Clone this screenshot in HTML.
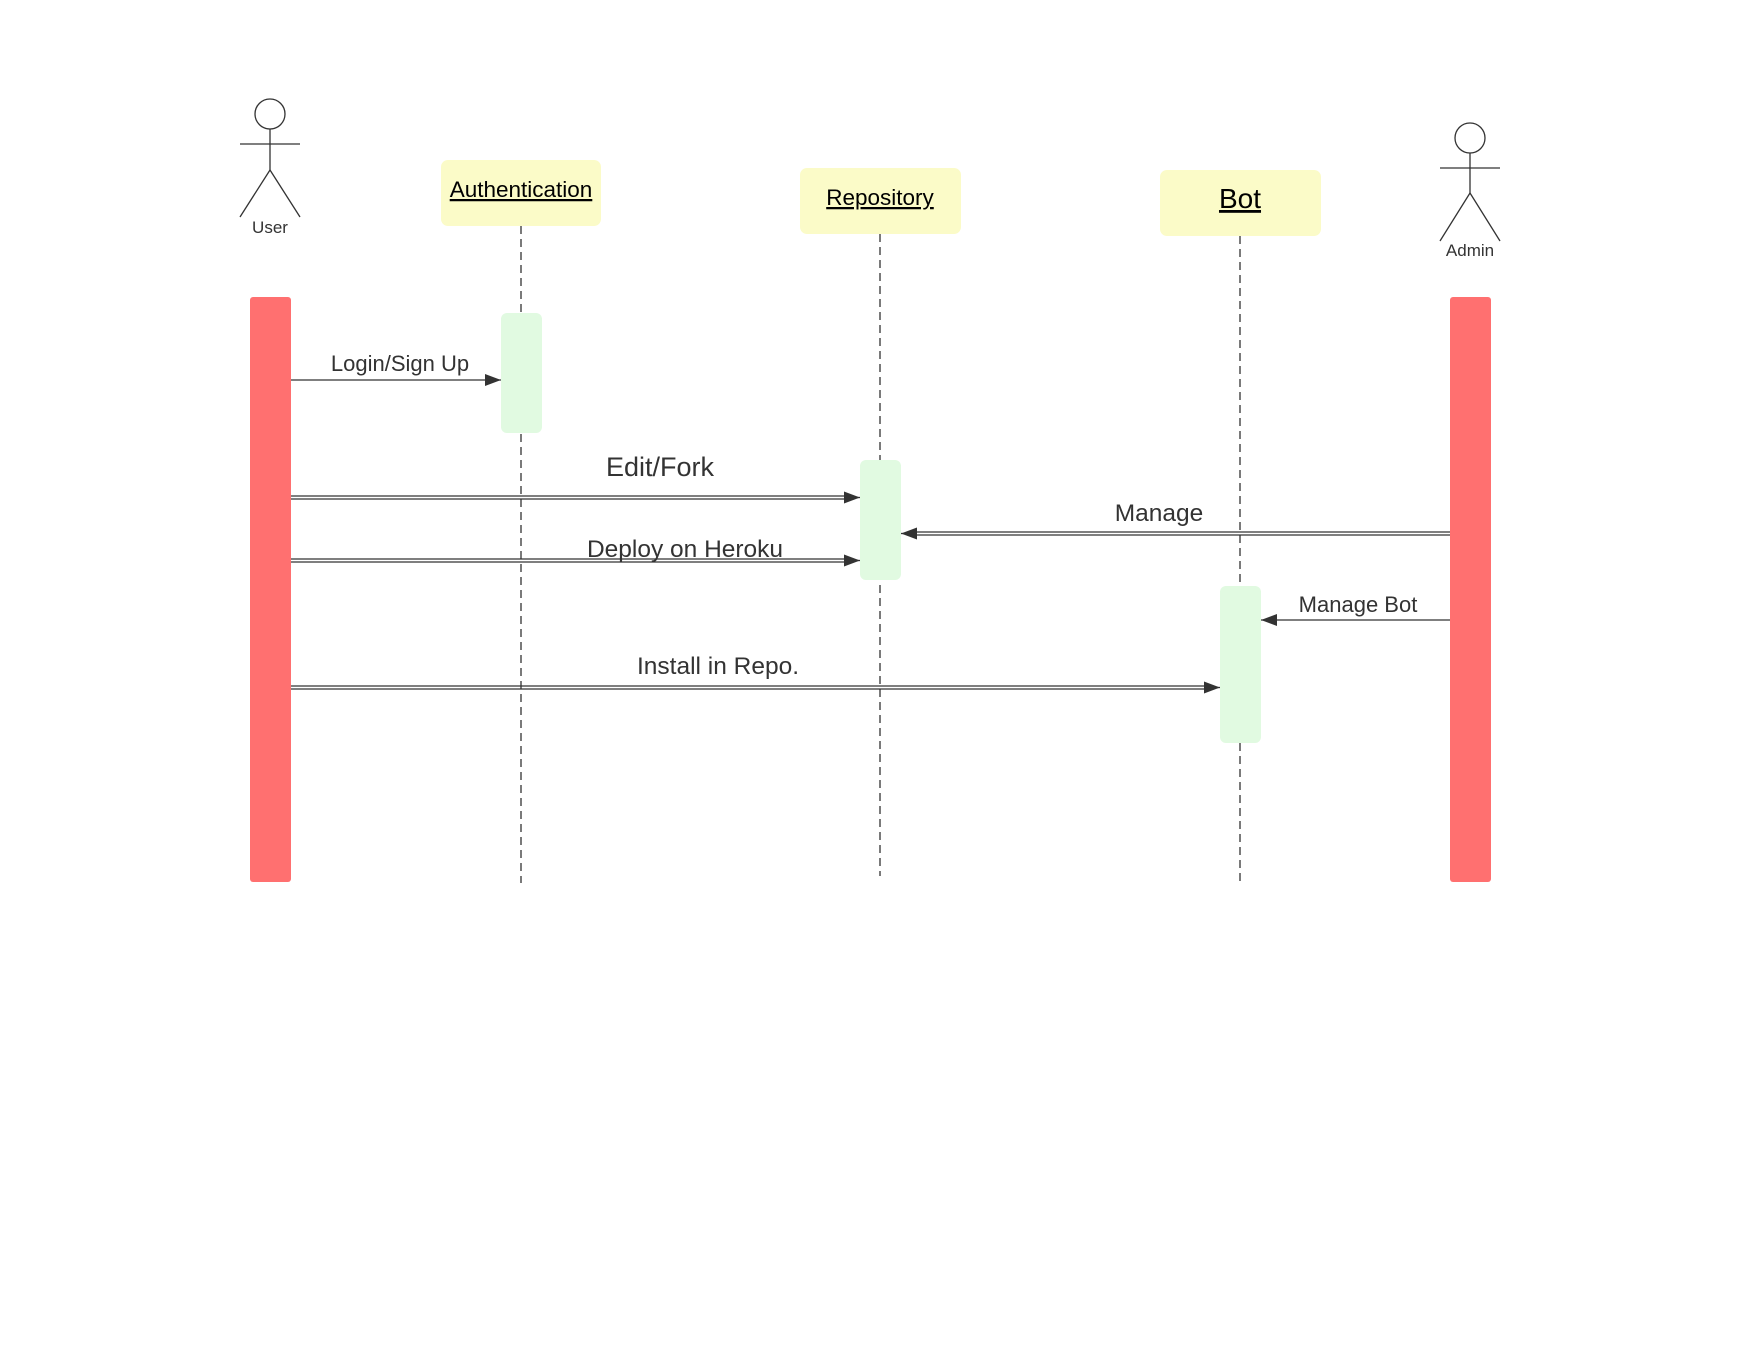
<!DOCTYPE html>
<html><head><meta charset="utf-8"><style>html,body{margin:0;padding:0;background:#fff}</style></head>
<body>
<svg width="1760" height="1360" viewBox="0 0 1760 1360" xmlns="http://www.w3.org/2000/svg" font-family="Liberation Sans, Arial, sans-serif">
<defs>
<marker id="ah" markerWidth="16" markerHeight="12" refX="16" refY="6" orient="auto" markerUnits="userSpaceOnUse">
<path d="M0,0 L16,6 L0,12 z" fill="#333"/>
</marker>
</defs>
<rect width="1760" height="1360" fill="#fff"/>
<g stroke="#333" stroke-width="1.3" fill="none">
<circle cx="270" cy="114" r="15"/>
<line x1="240" y1="144" x2="300" y2="144"/>
<line x1="270" y1="129" x2="270" y2="170"/>
<line x1="270" y1="170" x2="240" y2="217"/>
<line x1="270" y1="170" x2="300" y2="217"/>
<circle cx="1470" cy="138" r="15"/>
<line x1="1440" y1="168" x2="1500" y2="168"/>
<line x1="1470" y1="153" x2="1470" y2="193"/>
<line x1="1470" y1="193" x2="1440" y2="241"/>
<line x1="1470" y1="193" x2="1500" y2="241"/>
</g>
<text x="270" y="233" font-size="17" fill="#333" text-anchor="middle">User</text>
<text x="1470" y="256" font-size="17" fill="#333" text-anchor="middle">Admin</text>
<rect x="441" y="160" width="160" height="66" rx="7" fill="#fbfbc8"/>
<text x="521" y="197" font-size="22.5" text-anchor="middle" fill="#000" text-decoration="underline">Authentication</text>
<rect x="800" y="168" width="161" height="66" rx="7" fill="#fbfbc8"/>
<text x="880" y="205" font-size="22.5" text-anchor="middle" fill="#000" text-decoration="underline">Repository</text>
<rect x="1160" y="170" width="161" height="66" rx="7" fill="#fbfbc8"/>
<text x="1240" y="208" font-size="28" text-anchor="middle" fill="#000" text-decoration="underline">Bot</text>
<g stroke="#333" stroke-width="1.3" stroke-dasharray="8,5">
<line x1="521" y1="226" x2="521" y2="883"/>
<line x1="880" y1="234" x2="880" y2="876"/>
<line x1="1240" y1="236" x2="1240" y2="883"/>
</g>
<rect x="250" y="297" width="41" height="585" rx="3" fill="#ff7070"/>
<rect x="1450" y="297" width="41" height="585" rx="3" fill="#ff7070"/>
<rect x="501" y="313" width="41" height="120" rx="6" fill="#e1fae1"/>
<rect x="860" y="460" width="41" height="120" rx="6" fill="#e1fae1"/>
<rect x="1220" y="586" width="41" height="157" rx="6" fill="#e1fae1"/>
<g stroke="#333" stroke-width="1.3" fill="none">
<line x1="291" y1="380" x2="501" y2="380" marker-end="url(#ah)"/>
<line x1="291" y1="496" x2="845" y2="496"/><line x1="291" y1="499" x2="845" y2="499"/>
<line x1="844" y1="497.5" x2="860" y2="497.5" marker-end="url(#ah)"/>
<line x1="291" y1="559" x2="845" y2="559"/><line x1="291" y1="562" x2="845" y2="562"/>
<line x1="844" y1="560.5" x2="860" y2="560.5" marker-end="url(#ah)"/>
<line x1="916" y1="532" x2="1450" y2="532"/><line x1="916" y1="535" x2="1450" y2="535"/>
<line x1="917" y1="533.5" x2="901" y2="533.5" marker-end="url(#ah)"/>
<line x1="1450" y1="620" x2="1261" y2="620" marker-end="url(#ah)"/>
<line x1="291" y1="686" x2="1205" y2="686"/><line x1="291" y1="689" x2="1205" y2="689"/>
<line x1="1204" y1="687.5" x2="1220" y2="687.5" marker-end="url(#ah)"/>
</g>
<g fill="#333" text-anchor="middle">
<text x="400" y="371" font-size="22">Login/Sign Up</text>
<text x="660" y="476" font-size="27">Edit/Fork</text>
<text x="1159" y="521" font-size="24.5">Manage</text>
<text x="685" y="557" font-size="24.5">Deploy on Heroku</text>
<text x="1358" y="612" font-size="22">Manage Bot</text>
<text x="718" y="674" font-size="24.5">Install in Repo.</text>
</g>
</svg>
</body></html>
